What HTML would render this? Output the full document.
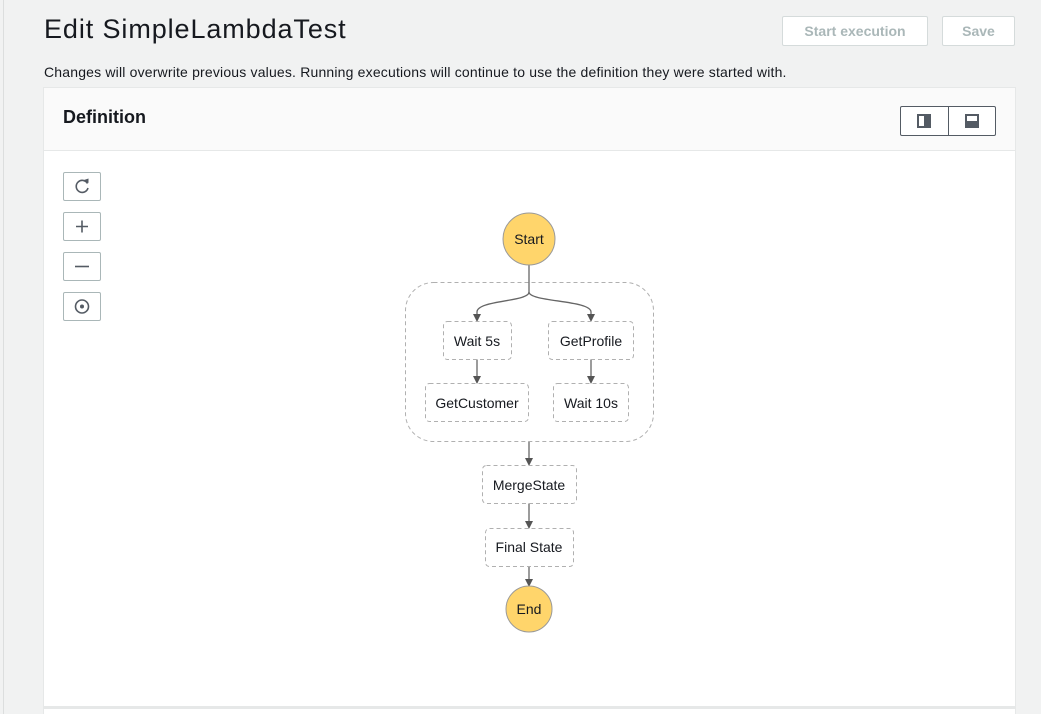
<!DOCTYPE html>
<html><head><meta charset="utf-8">
<style>
*{box-sizing:border-box;margin:0;padding:0}
html,body{width:1041px;height:714px;overflow:hidden;background:#f1f2f2;font-family:"Liberation Sans",sans-serif;color:#16191f;position:relative}
.vl{position:absolute;left:3px;top:0;width:1px;height:714px;background:#dcdede}
h1{position:absolute;left:44px;top:14px;font-size:27px;font-weight:400;letter-spacing:0.9px}
.sub{position:absolute;left:44px;top:64px;font-size:14px;letter-spacing:0.18px}
.btn{position:absolute;top:16px;height:30px;border:1px solid #d5dbdb;background:#fff;color:#aab7b8;font-weight:700;font-size:14px;display:flex;align-items:center;justify-content:center;border-radius:2px}
.panel{position:absolute;left:43px;top:87px;width:973px;height:640px;background:#fff;border:1px solid #e6e8e8}
.ph{height:63px;background:#fafafa;border-bottom:1px solid #e6e8e8;position:relative}
.ph b{position:absolute;left:19px;top:19px;font-size:18px}
.tog{position:absolute;left:856px;top:18px;width:96px;height:30px;border:1px solid #545b64;border-radius:2px;display:flex;background:#fff}
.tog div{flex:1;display:flex;align-items:center;justify-content:center}
.tog div+div{border-left:1px solid #545b64}
.zb{position:absolute;left:63px;width:38px;height:29px;border:1px solid #aab7b8;background:#fff;border-radius:2px}
.bot{position:absolute;left:44px;top:706px;width:971px;height:3px;background:#e6e8e8}
</style></head><body>
<div class="vl"></div>
<h1>Edit SimpleLambdaTest</h1>
<div class="sub">Changes will overwrite previous values. Running executions will continue to use the definition they were started with.</div>
<div class="btn" style="left:782px;width:146px">Start execution</div>
<div class="btn" style="left:942px;width:73px">Save</div>
<div class="panel">
 <div class="ph"><b>Definition</b>
  <div class="tog">
   <div><svg width="14" height="14"><rect x="1" y="1" width="12" height="12" fill="none" stroke="#545b64" stroke-width="2"/><rect x="7" y="1" width="6" height="12" fill="#545b64"/></svg></div>
   <div><svg width="14" height="14"><rect x="1" y="1" width="12" height="12" fill="none" stroke="#545b64" stroke-width="2"/><rect x="1" y="7" width="12" height="6" fill="#545b64"/></svg></div>
  </div>
 </div>
</div>
<div class="zb" style="top:172px"><svg width="36" height="27"><path d="M23.5 10.5 A6 6 0 1 0 24 15" fill="none" stroke="#545b64" stroke-width="1.6"/><path d="M20 7 L24.5 10 L24.5 5.5 Z" fill="#545b64"/></svg></div>
<div class="zb" style="top:212px"><svg width="36" height="27"><path d="M12 13.5H24M18 7.5V19.5" stroke="#545b64" stroke-width="1.6"/></svg></div>
<div class="zb" style="top:252px"><svg width="36" height="27"><path d="M11 13.5H25" stroke="#545b64" stroke-width="1.6"/></svg></div>
<div class="zb" style="top:292px"><svg width="36" height="27"><circle cx="18" cy="13.5" r="6.5" fill="none" stroke="#545b64" stroke-width="1.6"/><circle cx="18" cy="13.5" r="2" fill="#545b64"/></svg></div>
<div class="bot"></div>
<svg style="position:absolute;left:0;top:0" width="1041" height="714" font-family="Liberation Sans, sans-serif" font-size="14" fill="#16191f">
<g stroke="#666" stroke-width="1.3" fill="none">
<path d="M529 265 V292 C529 302 477 300 477 312 V315"/>
<path d="M529 292 C529 302 591 300 591 312 V315"/>
<path d="M477 359 V377"/>
<path d="M591 359 V377"/>
<path d="M529 441 V459"/>
<path d="M529 503 V522"/>
<path d="M529 566 V580"/>
</g>
<g fill="#555">
<path d="M473 314 L481 314 L477 322 Z"/>
<path d="M587 314 L595 314 L591 322 Z"/>
<path d="M473 376 L481 376 L477 384 Z"/>
<path d="M587 376 L595 376 L591 384 Z"/>
<path d="M525 458 L533 458 L529 466 Z"/>
<path d="M525 521 L533 521 L529 529 Z"/>
<path d="M525 579 L533 579 L529 587 Z"/>
</g>
<g fill="#fff" stroke="#b0b0b0" stroke-dasharray="4 3" stroke-width="1">
<rect x="405.5" y="282.5" width="248" height="159" rx="28" fill="none"/>
<rect x="443.5" y="321.5" width="68" height="38" rx="4"/>
<rect x="548.5" y="321.5" width="85" height="38" rx="4"/>
<rect x="425.5" y="383.5" width="103" height="38" rx="4"/>
<rect x="553.5" y="383.5" width="75" height="38" rx="4"/>
<rect x="482.5" y="465.5" width="94" height="38" rx="4"/>
<rect x="485.5" y="528.5" width="88" height="38" rx="4"/>
</g>
<circle cx="529" cy="239" r="26" fill="#ffd56b" stroke="#999" stroke-width="1"/>
<circle cx="529" cy="609" r="23" fill="#ffd56b" stroke="#999" stroke-width="1"/>
<g text-anchor="middle">
<text x="529" y="244">Start</text>
<text x="529" y="614">End</text>
<text x="477" y="346">Wait 5s</text>
<text x="591" y="346">GetProfile</text>
<text x="477" y="408">GetCustomer</text>
<text x="591" y="408">Wait 10s</text>
<text x="529" y="490">MergeState</text>
<text x="529" y="552">Final State</text>
</g>
</svg>
</body></html>
